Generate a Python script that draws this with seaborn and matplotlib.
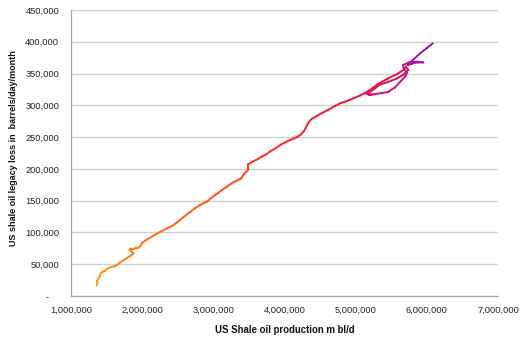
import numpy as np
import pandas as pd
import matplotlib
matplotlib.use("Agg")
import matplotlib.pyplot as plt
from matplotlib.colors import LinearSegmentedColormap, to_hex
from matplotlib.ticker import FuncFormatter
import seaborn as sns

# US shale oil production (bl/d)
production = [
    1358000, 1372000, 1365000, 1386000, 1407000, 1421000, 1449000, 1478000, 1492000, 1520000,
    1562000, 1604000, 1646000, 1688000, 1730000, 1787000, 1843000, 1878000, 1822000, 1843000,
    1885000, 1955000, 1983000, 1997000, 2067000, 2152000, 2250000, 2348000, 2419000, 2489000,
    2573000, 2671000, 2756000, 2812000, 2910000, 2994000, 3065000, 3121000, 3191000, 3261000,
    3317000, 3388000, 3430000, 3486000, 3493000, 3493000, 3556000, 3626000, 3683000, 3739000,
    3795000, 3879000, 3949000, 4006000, 4076000, 4132000, 4188000, 4230000, 4273000, 4301000,
    4329000, 4371000, 4441000, 4525000, 4610000, 4708000, 4792000, 4876000, 4961000, 5059000,
    5143000, 5199000, 5312000, 5452000, 5593000, 5677000, 5705000, 5740000, 5663000, 5579000,
    5452000, 5340000, 5270000, 5186000, 5150000, 5228000, 5186000, 5270000, 5368000, 5452000,
    5551000, 5621000, 5691000, 5719000, 5677000, 5663000, 5761000, 5860000, 5951000, 5846000,
    5733000, 5803000, 5902000, 6000000, 6084000,
]
# legacy loss (barrels/day/month)
legacy_loss = [
    16500, 20450, 23600, 27500, 31500, 36200, 38500, 39300, 41700, 43300,
    45600, 46400, 48800, 52700, 55800, 59800, 63700, 66900, 73100, 74700,
    74700, 76300, 80200, 83400, 88900, 94400, 100700, 106200, 110100, 115600,
    123500, 132100, 139200, 143100, 148600, 156500, 162000, 166700, 172200, 177700,
    180900, 184800, 191900, 198200, 199800, 207600, 211600, 215500, 219400, 222600,
    227300, 232800, 238300, 241500, 245400, 247700, 250900, 254000, 259500, 265000,
    271300, 277600, 282400, 287900, 292600, 298900, 303600, 306700, 310700, 315400,
    320100, 324000, 333500, 342100, 350000, 356300, 361000, 355500, 347600, 342100,
    336600, 332700, 326400, 320100, 318500, 317000, 316200, 317700, 319300, 320900,
    328000, 336600, 344500, 350800, 358600, 363300, 368100, 368600, 367600, 367300,
    363300, 371200, 381400, 390100, 397500,
]
x_ticks = [1000000, 2000000, 3000000, 4000000, 5000000, 6000000, 7000000]
y_ticks = [0, 50000, 100000, 150000, 200000, 250000, 300000, 350000, 400000, 450000]
x_label = "US Shale oil production m bl/d"
y_label = "US shale oil legacy loss in  barrels/day/month"

# Build segment table so each segment gets its own gradient colour
n = len(production)
rows = []
for i in range(n - 1):
    for j in (i, i + 1):
        rows.append({"seg": i, "x": production[j], "y": legacy_loss[j]})
df = pd.DataFrame(rows)

cmap = LinearSegmentedColormap.from_list(
    "grad",
    [(0.0, "#FF9A1E"), (0.25, "#FF6A1A"), (0.5, "#FF2A20"), (0.68, "#F01038"),
     (0.8, "#E0105E"), (0.9, "#C01088"), (1.0, "#9018B0")],
)
palette = {i: to_hex(cmap(i / (n - 2))) for i in range(n - 1)}

sns.set_style("white")
plt.rcParams["font.family"] = ["Liberation Sans", "DejaVu Sans"]

fig = plt.figure(figsize=(5.27, 3.44), dpi=100)
ax = fig.add_axes([71 / 527, 1 - 296 / 344, (498 - 71) / 527, (296 - 10) / 344])

sns.lineplot(data=df, x="x", y="y", hue="seg", palette=palette, units="seg",
             estimator=None, sort=False, legend=False, linewidth=1.4, ax=ax)

ax.set_xlim(1000000, 7000000)
ax.set_ylim(0, 450000)
ax.set_xticks(x_ticks)
ax.set_yticks(y_ticks)
ax.xaxis.set_major_formatter(FuncFormatter(lambda v, p: f"{int(v):,}"))
ax.yaxis.set_major_formatter(FuncFormatter(lambda v, p: "-    " if v == 0 else f"{int(v):,}"))
ax.yaxis.grid(True, color="#D0D0D0", linewidth=1.0)
ax.xaxis.grid(False)
ax.set_axisbelow(True)
for s in ("top", "right"):
    ax.spines[s].set_visible(False)
for s in ("left", "bottom"):
    ax.spines[s].set_color("#A8A8A8")
    ax.spines[s].set_linewidth(0.9)
ax.tick_params(axis="both", which="major", length=3.5, width=0.8, color="#A8A8A8",
               labelsize=6.7, labelcolor="#222222", direction="out")
ax.tick_params(axis="x", pad=3.5)
ax.tick_params(axis="y", pad=5)
ax.set_xlabel(x_label, fontsize=6.9, fontweight="bold", color="#111111")
ax.set_ylabel(y_label, fontsize=6.5, fontweight="bold", color="#111111")
ax.xaxis.set_label_coords(0.5, (296 - 330) / 286)
ax.xaxis.label.set_va("center")
ax.yaxis.set_label_coords((14 - 71) / 427, (296 - 148) / 286)
ax.yaxis.label.set_va("center")

fig.savefig("out.png", dpi=100)
